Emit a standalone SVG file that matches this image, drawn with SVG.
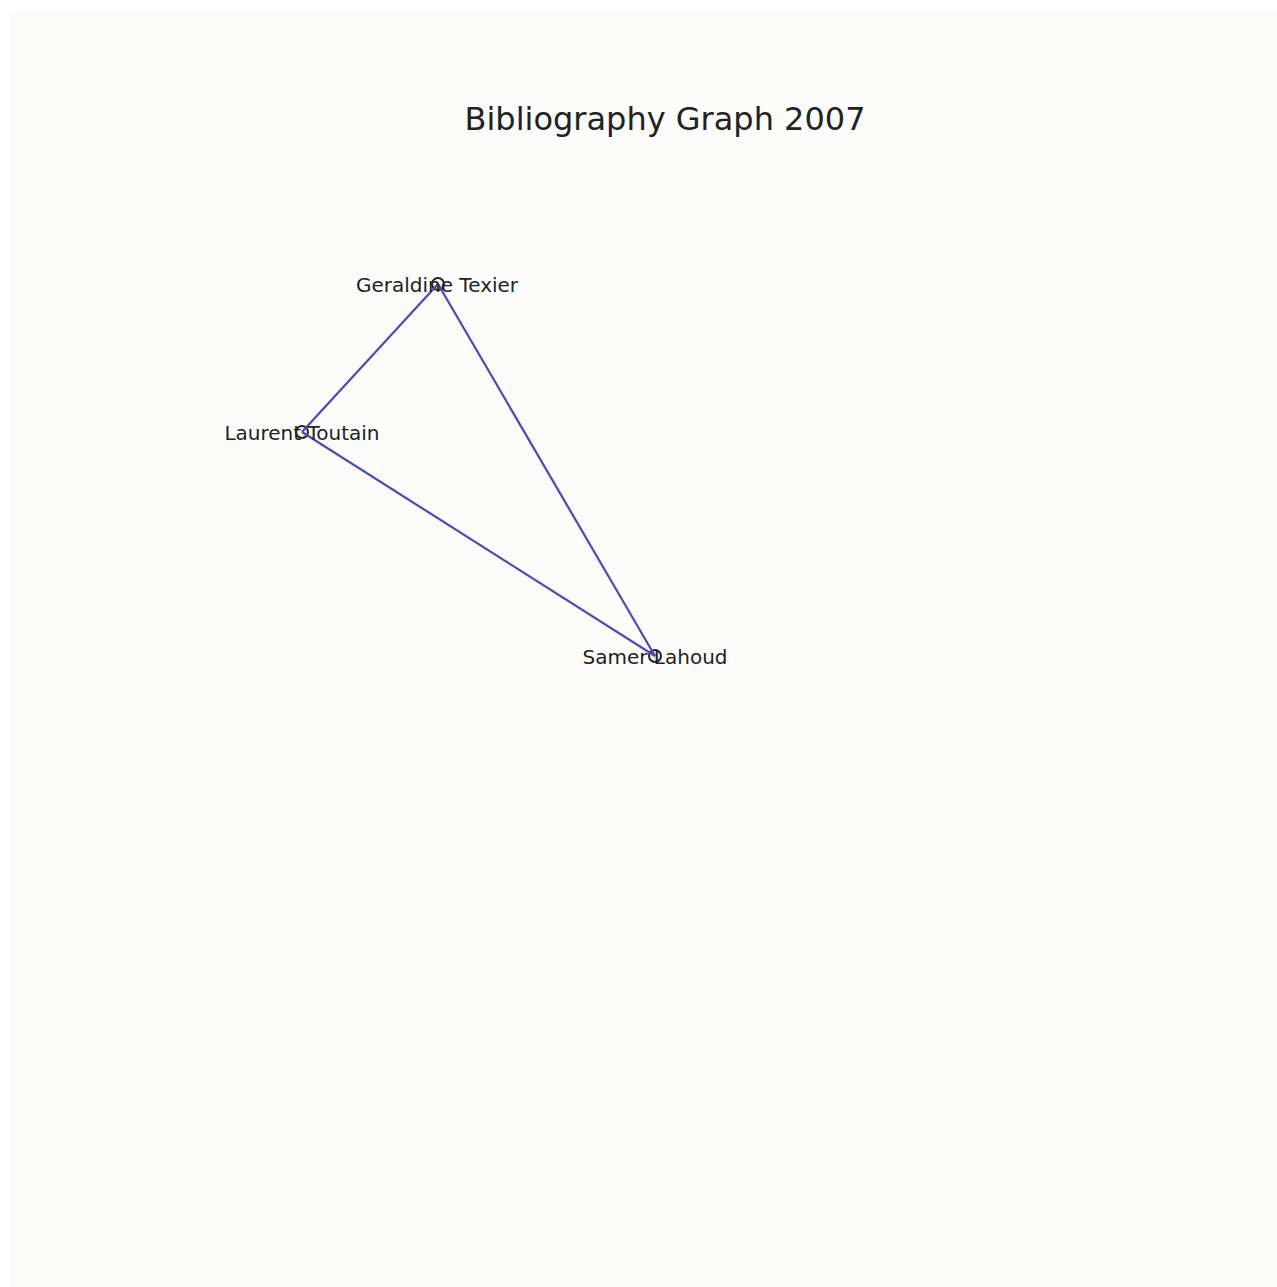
<svg xmlns="http://www.w3.org/2000/svg" width="1277" height="1287" viewBox="0 0 1277 1287">
<style>
.edge{stroke:#4a4ab4;stroke-width:2.2;fill:none}
.node{fill:#f4f2ea;stroke:#222;stroke-width:2}
.label{font-family:"DejaVu Sans",sans-serif;font-size:20px;fill:#222;text-anchor:middle}
.title{font-family:"DejaVu Sans",sans-serif;font-size:32px;fill:#222;text-anchor:middle}
</style>
<rect x="0" y="0" width="1277" height="1287" fill="#ffffff"/>
<rect x="9" y="12" width="1268" height="1275" fill="#fbfcfa"/>
<text class="title" x="665" y="130">Bibliography Graph 2007</text>
<g id="nodes-under">
<g id="node-geraldine"><circle class="node" cx="438" cy="284" r="6"/></g>
<g id="node-laurent"><circle class="node" cx="302" cy="432" r="6"/></g>
<g id="node-samer"><circle class="node" cx="655" cy="656" r="6"/></g>
</g>
<g id="edges">
<line class="edge" x1="438" y1="284" x2="302" y2="432"/>
<line class="edge" x1="438" y1="284" x2="655" y2="656"/>
<line class="edge" x1="302" y1="432" x2="655" y2="656"/>
</g>
<g id="labels">
<text class="label" x="437" y="292">Geraldine Texier</text>
<text class="label" x="302" y="440">Laurent Toutain</text>
<text class="label" x="655" y="664">Samer Lahoud</text>
</g>
</svg>
